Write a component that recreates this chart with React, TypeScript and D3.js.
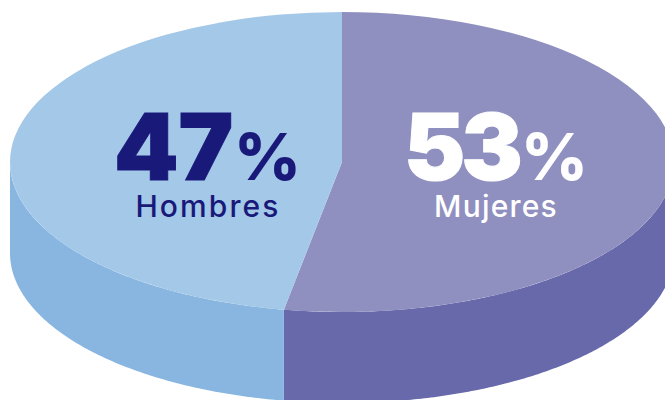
import React from 'react'
import * as d3 from 'd3'

const categories = ['Mujeres', 'Hombres']
const percentLabels = [53, 47]
// slice shares, the seam sits slightly off the printed 53/47
const drawnShares = [52.8, 47.2]
const topColors = ['#8f8fc0', '#a4c8e8']
const sideColors = ['#6869aa', '#88b6e0']
const textColors = ['#ffffff', '#19197a']

const width = 665
const height = 400
const cx = 342
const cy = 162
const rx = 332
const ry = 150
const depth = 91

// label positions: number x, number tracking, % x, name x (middle), name letter spacing
const labelPos = [
    { num: 404, numSpacing: -4, pct: 521, name: 496, spacing: 1.2 },
    { num: 114, numSpacing: 0, pct: 234, name: 208, spacing: 2.1 },
]

export default function App() {
    const pie = d3.pie<number>().sort(null)(drawnShares)
    const arc = d3.arc<d3.PieArcDatum<number>>().innerRadius(0).outerRadius(rx)

    // side wall, only the front half of the ellipse shows
    const side = d3.area<number>()
        .x(a => cx + rx * Math.sin(a))
        .y0(a => cy - ry * Math.cos(a))
        .y1(a => cy - ry * Math.cos(a) + depth)

    const wall = (slice: d3.PieArcDatum<number>) => {
        const start = Math.max(slice.startAngle, Math.PI / 2)
        const end = Math.min(slice.endAngle, (3 * Math.PI) / 2)
        return side(d3.range(start, end, 0.01).concat(end))
    }

    return (
        <svg width={width} height={height} style={{ position: 'absolute', left: 0, top: 0 }}>
            {pie.map((slice, i) => (
                <path key={'side' + i} d={wall(slice) || ''} fill={sideColors[i]} />
            ))}
            <g transform={`translate(${cx}, ${cy}) scale(1, ${ry / rx})`}>
                {pie.map((slice, i) => (
                    <path key={'top' + i} d={arc(slice) || ''} fill={topColors[i]} />
                ))}
            </g>
            {pie.map((slice, i) => (
                <g key={'label' + i} fill={textColors[i]} fontFamily="Inter, sans-serif">
                    <text x={labelPos[i].num} y={180} fontSize={92} fontWeight={900} stroke={textColors[i]} strokeWidth={1} letterSpacing={labelPos[i].numSpacing}>{percentLabels[i]}</text>
                    <text x={labelPos[i].pct} y={180} fontSize={65} fontWeight={800}>%</text>
                    <text x={labelPos[i].name} y={217} fontSize={30} fontWeight={500} textAnchor="middle" letterSpacing={labelPos[i].spacing}>{categories[i]}</text>
                </g>
            ))}
        </svg>
    )
}
